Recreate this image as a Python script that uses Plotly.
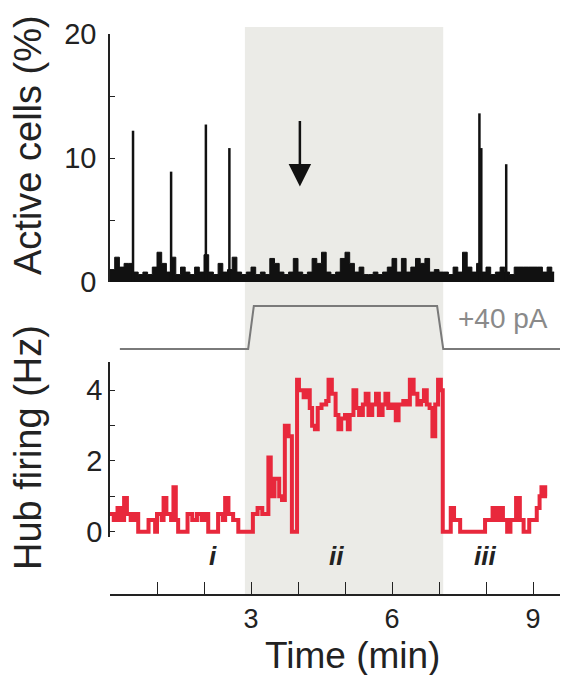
import plotly.graph_objects as go

# ---------------- data ----------------
# Top panel: active cells (%), background activity sampled every 0.1 min
noise_t = [round(0.1 * i, 1) for i in range(95)]
noise_v = [1.0, 2.0, 1.2, 1.5, 1.5, 0.8, 0.6, 0.8, 0.6, 1.2,
           2.4, 1.5, 0.8, 2.0, 0.6, 1.2, 0.8, 0.6, 1.2, 0.8,
           2.2, 0.8, 0.6, 1.5, 0.8, 1.0, 2.0, 0.8, 0.6, 0.8,
           1.2, 0.6, 0.8, 0.6, 1.9, 1.5, 0.8, 0.6, 0.8, 1.9,
           0.8, 0.6, 0.8, 1.9, 1.5, 2.4, 0.8, 0.6, 0.8, 1.9,
           2.4, 1.5, 0.8, 1.2, 0.6, 0.6, 0.8, 0.6, 0.8, 1.2,
           1.9, 0.8, 1.9, 0.8, 1.2, 1.9, 1.5, 1.9, 0.8, 1.0,
           0.8, 0.8, 0.6, 1.2, 0.8, 2.4, 1.2, 0.8, 1.5, 0.8,
           1.2, 0.6, 0.8, 1.2, 0.8, 0.6, 1.2, 1.2, 1.2, 1.2,
           1.2, 1.2, 0.8, 1.2, 0.8]

# Network events (spikes)
spike_t = [0.49, 1.30, 2.04, 2.54, 7.86, 7.90, 8.43]
spike_v = [12.2, 8.9, 12.7, 10.8, 13.6, 10.8, 9.5]

# Injected current step
current_t = [0.21, 2.94, 3.06, 6.96, 7.09, 10.0]
current_pA = [0, 0, 40, 40, 0, 0]

# Bottom panel: hub firing (Hz)
hub_t = [0.00, 0.08, 0.16, 0.24, 0.30, 0.36, 0.44, 0.52, 0.60, 0.82, 0.96, 1.00,
         1.10, 1.14, 1.20, 1.30, 1.35, 1.40, 1.45, 1.65, 1.75, 1.85, 1.95, 2.02,
         2.09, 2.30, 2.40, 2.45, 2.52, 2.62, 2.73, 3.04, 3.14, 3.24, 3.37, 3.42,
         3.50, 3.60, 3.66, 3.72, 3.80, 3.87, 3.98, 4.02, 4.12, 4.20, 4.25, 4.30,
         4.36, 4.42, 4.50, 4.60, 4.65, 4.72, 4.80, 4.86, 4.92, 5.00, 5.06, 5.10,
         5.18, 5.24, 5.30, 5.38, 5.44, 5.50, 5.58, 5.66, 5.72, 5.80, 5.86, 5.92,
         6.00, 6.08, 6.14, 6.24, 6.32, 6.38, 6.46, 6.54, 6.62, 6.68, 6.74, 6.80,
         6.86, 6.92, 6.98, 7.04, 7.08, 7.25, 7.32, 7.45, 7.98, 8.08, 8.14, 8.20,
         8.28, 8.36, 8.45, 8.52, 8.64, 8.72, 8.80, 8.92, 9.00, 9.08, 9.14, 9.18,
         9.26, 9.30]
hub_hz = [0.50, 0.33, 0.67, 0.33, 0.95, 0.50, 0.33, 0.50, 0.00, 0.33, 0.00, 0.50,
          0.33, 0.95, 0.50, 0.33, 1.26, 0.33, 0.00, 0.50, 0.33, 0.50, 0.33, 0.50,
          0.00, 0.50, 0.33, 0.95, 0.50, 0.33, 0.00, 0.50, 0.67, 0.50, 2.10, 1.00,
          1.50, 1.00, 0.90, 3.00, 2.70, 0.00, 4.30, 4.00, 3.80, 4.00, 3.50, 3.00,
          2.90, 3.50, 3.60, 3.70, 4.30, 3.90, 3.30, 2.90, 3.20, 3.30, 2.90, 3.30,
          4.00, 3.50, 3.30, 3.60, 3.90, 3.30, 3.60, 3.90, 3.30, 3.60, 3.90, 3.50,
          3.60, 3.15, 3.60, 3.70, 3.60, 4.30, 3.90, 3.60, 3.70, 4.00, 3.60, 3.50,
          2.70, 3.60, 4.30, 4.00, 0.00, 0.67, 0.33, 0.00, 0.33, 0.33, 0.67, 0.33,
          0.67, 0.33, 0.00, 0.33, 0.95, 0.33, 0.00, 0.33, 0.33, 0.67, 1.00, 1.26,
          1.00, 1.00]

x_ticks = [0, 1, 2, 3, 4, 5, 6, 7, 8, 9]
x_ticktext = ["", "", "", "3", "", "", "6", "", "", "9"]
top_ticks = [0, 5, 10, 15, 20]
top_ticktext = ["0", "", "10", "", "20"]
hub_ticks = [0, 1, 2, 3, 4]
hub_ticktext = ["0", "", "2", "", "4"]

stim_start, stim_end = 2.87, 7.09
epoch_labels = ["i", "ii", "iii"]
epoch_t = [2.19, 4.81, 7.98]

# ---------------- figure ----------------
FONT = "Liberation Sans, Arial, Helvetica, sans-serif"
OFF = 8                     # page body margin
W, H = 568 - OFF, 675 - OFF
X0_PIX, PX_PER_MIN = 110, 47.0
XMAX = (568 - X0_PIX) / PX_PER_MIN


def px(pix):
    return (pix - OFF) / W


def py(pix):
    return (H - (pix - OFF)) / H


xdom = [px(X0_PIX), 1.0]

fig = go.Figure()

# background activity band
fig.add_trace(go.Scatter(x=noise_t + [noise_t[-1] + 0.05], y=noise_v + [noise_v[-1]],
                         mode="lines", line=dict(color="#111111", width=1, shape="hv"),
                         fill="tozeroy", fillcolor="#111111",
                         xaxis="x", yaxis="y", showlegend=False, hoverinfo="skip"))
# spikes
sx, sy = [], []
for t, v in zip(spike_t, spike_v):
    sx += [t, t, None]
    sy += [0, v, None]
fig.add_trace(go.Scatter(x=sx, y=sy, mode="lines", line=dict(color="#111111", width=2.5),
                         xaxis="x", yaxis="y", showlegend=False, hoverinfo="skip"))

# current step
fig.add_trace(go.Scatter(x=current_t, y=current_pA, mode="lines",
                         line=dict(color="#7a7a7a", width=2),
                         xaxis="x3", yaxis="y3", showlegend=False, hoverinfo="skip"))

# hub firing
fig.add_trace(go.Scatter(x=hub_t, y=hub_hz, mode="lines",
                         line=dict(color="#e8283c", width=4, shape="hv"),
                         xaxis="x2", yaxis="y2", showlegend=False, hoverinfo="skip"))

axis_common = dict(showgrid=False, zeroline=False, linecolor="#222222", linewidth=1.5,
                   tickcolor="#222222", tickwidth=1.3, automargin=False,
                   tickfont=dict(family=FONT, size=29, color="#222222"))

fig.update_layout(
    template="none",
    width=W, height=H,
    margin=dict(l=0, r=0, t=0, b=0, autoexpand=False),
    paper_bgcolor="white", plot_bgcolor="rgba(0,0,0,0)",
    xaxis=dict(domain=xdom, range=[0, XMAX], visible=False, anchor="y"),
    yaxis=dict(domain=[py(282), py(34)], range=[0, 20], anchor="x", showline=True,
               ticks="inside", ticklen=5, tickvals=top_ticks, ticktext=top_ticktext,
               ticklabelstandoff=6, **axis_common),
    xaxis2=dict(domain=xdom, range=[0, XMAX], anchor="free", position=py(595),
                showline=True, ticks="inside", ticklen=12, tickvals=x_ticks,
                ticktext=x_ticktext, **{**axis_common,
                                        "tickfont": dict(family=FONT, size=27, color="#222222")}),
    yaxis2=dict(domain=[py(537), py(362)], range=[-0.15, 4.8], anchor="x2",
                showline=True, ticks="inside", ticklen=5, tickvals=hub_ticks,
                ticktext=hub_ticktext, **axis_common),
    xaxis3=dict(domain=xdom, range=[0, XMAX], visible=False, anchor="y3"),
    yaxis3=dict(domain=[py(352), py(303)], range=[-2.79, 42.79], visible=False, anchor="x3"),
)

# stimulation shading
fig.add_shape(type="rect", xref="x", yref="paper", x0=stim_start, x1=stim_end,
              y0=py(595), y1=py(27), fillcolor="#ebebe7", line=dict(width=0), layer="below")

C = dict(xanchor="center", yanchor="middle", showarrow=False)
ann = []
ann.append(dict(text="Active cells (%)", textangle=-90, xref="paper", yref="paper",
                x=px(28), y=py(145), font=dict(family=FONT, size=38, color="#222222"), **C))
ann.append(dict(text="Hub firing (Hz)", textangle=-90, xref="paper", yref="paper",
                x=px(28), y=py(448), font=dict(family=FONT, size=38, color="#222222"), **C))
ann.append(dict(text="Time (min)", xref="paper", yref="paper", x=px(352), y=py(655),
                font=dict(family=FONT, size=37, color="#222222"), **C))
ann.append(dict(text="+40 pA", xref="paper", yref="paper", x=px(503), y=py(318),
                font=dict(family=FONT, size=28, color="#8a8a8a"), **C))
for lab, t in zip(epoch_labels, epoch_t):
    ann.append(dict(text="<b><i>" + lab + "</i></b>", xref="x2", yref="paper", x=t,
                    y=py(556), font=dict(family=FONT, size=26, color="#222222"), **C))
# arrow
ann.append(dict(text="", x=4.04, y=7.7, xref="x", yref="y", ax=4.04, ay=13.1,
                axref="x", ayref="y", showarrow=True, arrowhead=2, arrowsize=1.8,
                arrowwidth=2.5, arrowcolor="#111111", standoff=0))
fig.update_layout(annotations=ann)

fig.write_html("out.html")
